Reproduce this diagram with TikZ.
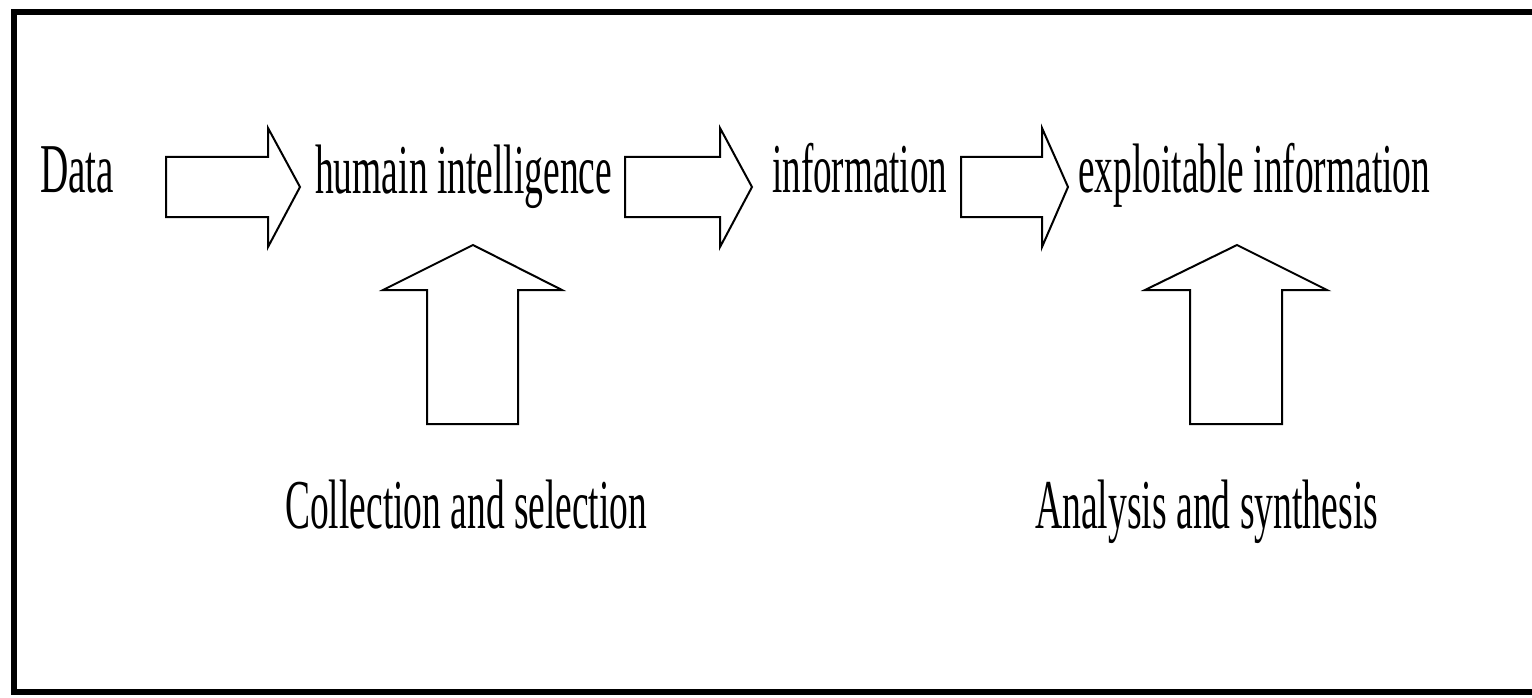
\documentclass[tikz,border=0pt]{standalone}
\usepackage{fontspec}
\setmainfont{Liberation Serif}
\usepackage{graphicx}

% condensed text: fixed width, natural height
\newcommand{\squeezed}[2]{\resizebox{#1pt}{\height}{#2}}
% right-pointing block arrow: body start, head base, tip (centre line y=187)
\newcommand{\rightblock}[3]{%
  \draw[block arrow] (#1,157) -- (#2,157) -- (#2,128) -- (#3,187)
    -- (#2,247) -- (#2,217) -- (#1,217) -- cycle;}
% upward block arrow: body left, body right, head left, head right, tip x
\newcommand{\upblock}[5]{%
  \draw[block arrow] (#1,424) -- (#2,424) -- (#2,290) -- (#4,290)
    -- (#5,245) -- (#3,290) -- (#1,290) -- cycle;}

\begin{document}
\begin{tikzpicture}[x=1pt,y=-1pt,
  label text/.style={inner sep=0pt, anchor=base west,
    font=\fontsize{70}{80}\selectfont},
  block arrow/.style={draw=black, line width=2pt, fill=white, line join=miter},
  frame/.style={draw=black, line width=6.5pt}]
\useasboundingbox (0,0) rectangle (1532,698);
\draw[frame] (14,12) rectangle (1570,692);

% top row
\node[label text] (data)   at (40,193)   {\squeezed{74}{Data}};
\node[label text] (human)  at (315,193)  {\squeezed{297}{humain intelligence}};
\node[label text] (info)   at (772,193)  {\squeezed{175}{information}};
\node[label text] (exploit) at (1078,193) {\squeezed{352}{exploitable information}};

% bottom row
\node[label text] (collect) at (285,528)  {\squeezed{362}{Collection and selection}};
\node[label text] (analyse) at (1035,528) {\squeezed{343}{Analysis and synthesis}};

% flow arrows
\rightblock{166}{268}{300}
\rightblock{625}{720}{752}
\rightblock{961}{1042}{1068}

% process arrows
\upblock{427}{518}{383}{562}{473}
\upblock{1190}{1282}{1145}{1327}{1237}
\end{tikzpicture}
\end{document}
